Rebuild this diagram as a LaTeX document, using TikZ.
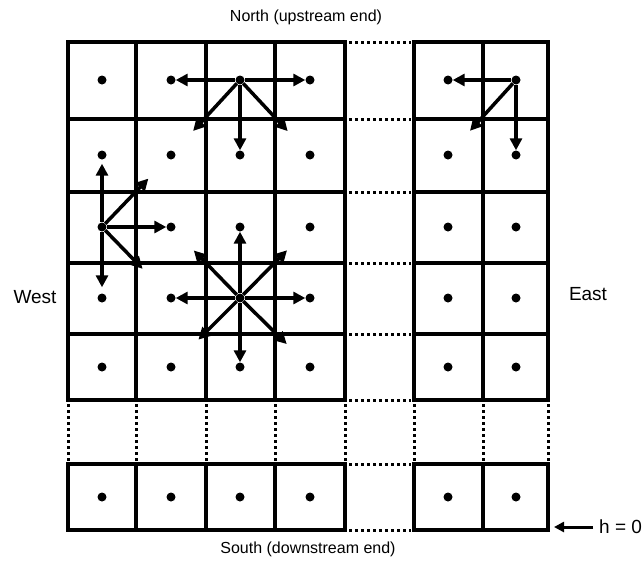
\documentclass[tikz,border=0pt]{standalone}
\usepackage{fontspec}
\setmainfont{Liberation Sans}
\usetikzlibrary{arrows.meta}

\begin{document}
\begin{tikzpicture}[
    x=1pt,y=-1pt,
    font=\fontsize{16}{19}\selectfont,
    side/.style={font=\fontsize{19}{22}\selectfont},
    gridline/.style={line width=4.5pt,line cap=rect},
    dotline/.style={line width=3pt,dash pattern=on 3pt off 3pt},
    dot/.style={circle,fill,inner sep=0pt,minimum size=9pt},
    arrow/.style={-{Triangle[length=12pt,width=12pt]},line width=3.5pt},
    diag/.style={arrow,shorten >=28pt}
]
\useasboundingbox (0,0) rectangle (644,565);

% left block
\foreach \y in {42,119,192,263,334,400}
    \draw[gridline] (68,\y) -- (345,\y);
\foreach \x in {68,136,206,275,345}
    \draw[gridline] (\x,42) -- (\x,400);
\draw[gridline] (68,464) rectangle (345,530);
\foreach \x in {136,206,275}
    \draw[gridline] (\x,464) -- (\x,530);

% right block
\foreach \y in {42,119,192,263,334,400}
    \draw[gridline] (414,\y) -- (548,\y);
\foreach \x in {414,483,548}
    \draw[gridline] (\x,42) -- (\x,400);
\draw[gridline] (414,464) rectangle (548,530);
\draw[gridline] (483,464) -- (483,530);

% dotted gaps
\foreach \y in {42,119,192,263,334,400,464,530}
    \draw[dotline] (349,\y) -- (411,\y);
\foreach \x in {68,136,206,275,345,414,483,548}
    \draw[dotline] (\x,404) -- (\x,461);

% cell centres
\foreach \r/\yc in {1/80,2/155,3/227,4/298,5/367,6/497} {
    \foreach \c/\xc in {1/102,2/171,3/240,4/310}
        \node[dot] (L\r\c) at (\xc,\yc) {};
    \foreach \c/\xc in {1/448,2/516}
        \node[dot] (R\r\c) at (\xc,\yc) {};
}

% flow directions
\draw[arrow] (L13) -- (L12);
\draw[arrow] (L13) -- (L14);
\draw[arrow] (L13) -- (L23);
\draw[diag] (L13) -- (L22);
\draw[diag] (L13) -- (L24);

\draw[arrow,shorten >=4pt] (L31) -- (L21);
\draw[arrow] (L31) -- (L32);
\draw[arrow,shorten >=6pt] (L31) -- (L41);
\draw[diag] (L31) -- (L22);
\draw[diag,shorten >=36pt] (L31) -- (L42);

\draw[arrow] (L43) -- (L33);
\draw[arrow] (L43) -- (L53);
\draw[arrow] (L43) -- (L42);
\draw[arrow] (L43) -- (L44);
\draw[diag] (L43) -- (L32);
\draw[diag] (L43) -- (L34);
\draw[diag,shorten >=34pt] (L43) -- (L52);
\draw[diag] (L43) -- (L54);

\draw[arrow] (R12) -- (R11);
\draw[arrow] (R12) -- (R22);
\draw[diag] (R12) -- (R21);

% labels
\node (north) at (306,17) {North (upstream end)};
\node (south) at (308,549) {South (downstream end)};
\node[side] (west) at (35,297) {West};
\node[side] (east) at (588,294) {East};
\node[side,anchor=west,inner sep=0pt] (hzero) at (599,527) {h = 0};
\coordinate (hend) at (554,527);
\draw[-{Triangle[length=10pt,width=10pt]},line width=3pt] (hzero.west) ++(-6,0) -- (hend);
\end{tikzpicture}
\end{document}
